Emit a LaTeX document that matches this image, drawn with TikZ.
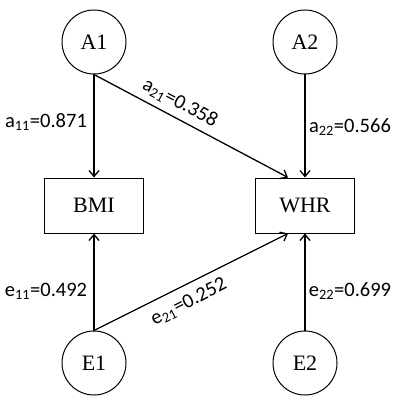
\documentclass[tikz,border=0pt]{standalone}
\usepackage{fontspec}
\setmainfont{Liberation Serif}
\newfontfamily\lblfont{Carlito}
\usetikzlibrary{calc, arrows.meta}

\tikzset{
  latent/.style={draw, circle, line width=1pt, minimum size=64pt, inner sep=0pt, font=\fontsize{22}{24}\selectfont},
  observed/.style={draw, rectangle, line width=1pt, minimum width=99pt, minimum height=55pt, inner sep=0pt, font=\fontsize{22}{24}\selectfont},
  path/.style={-{Straight Barb[length=6pt, width=10pt]}, line width=1.3pt},
  coef/.style={font=\lblfont\fontsize{20.5}{22}\selectfont, inner sep=0pt}
}

\begin{document}
\begin{tikzpicture}[x=1pt, y=-1pt]
  \useasboundingbox (0,0) rectangle (403,403);

  % latent factors and observed traits
  \node[latent] (A1) at (94,42) {A1};
  \node[latent] (A2) at (305,42) {A2};
  \node[observed] (BMI) at (94,205.5) {BMI};
  \node[observed] (WHR) at (305,205.5) {WHR};
  \node[latent] (E1) at (94,363) {E1};
  \node[latent] (E2) at (305,363) {E2};

  % paths
  \draw[path] (A1) -- (BMI);
  \draw[path] (A2) -- (WHR);
  \draw[path] (E1) -- (BMI);
  \draw[path] (E2) -- (WHR);
  \draw[path] (A1.south) -- ($(WHR.north west)!0.33!(WHR.north east)$);
  \draw[path] (E1.north) -- ($(WHR.south west)!0.33!(WHR.south east)$);

  % path coefficients
  \node[coef] (a11) at (46,122) {a\textsubscript{11}=0.871};
  \node[coef] (a22) at (350,127) {a\textsubscript{22}=0.566};
  \node[coef, rotate=-28] (a21) at (180,103) {a\textsubscript{21}=0.358};
  \node[coef] (e11) at (46,291) {e\textsubscript{11}=0.492};
  \node[coef] (e22) at (350,291) {e\textsubscript{22}=0.699};
  \node[coef, rotate=27] (e21) at (189,302) {e\textsubscript{21}=0.252};
\end{tikzpicture}
\end{document}
